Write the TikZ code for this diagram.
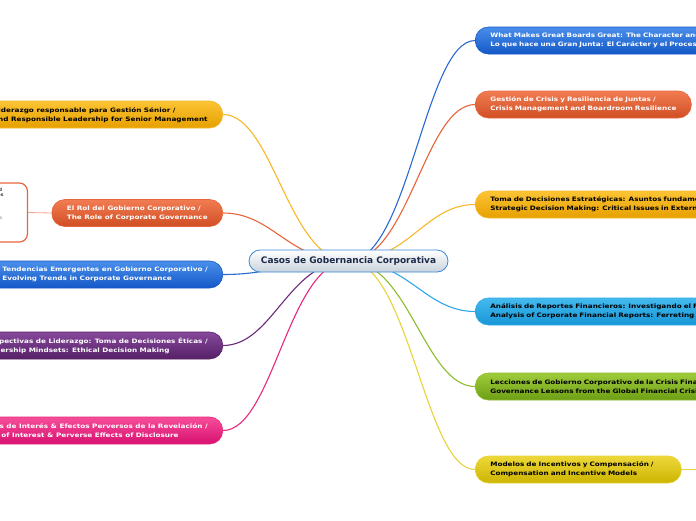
\documentclass[tikz,border=0pt]{standalone}
\usepackage{fontspec}
\setmainfont{DejaVu Sans}
\newfontfamily\branchfont{DejaVu Sans}[FakeStretch=1.2]
\usetikzlibrary{calc}

\definecolor{bluetop}{HTML}{4A8FEA}\definecolor{bluebot}{HTML}{1458C8}\definecolor{blueline}{HTML}{2A6AD0}
\definecolor{orangetop}{HTML}{F27C52}\definecolor{orangebot}{HTML}{D04E24}\definecolor{orangeline}{HTML}{E8643A}
\definecolor{goldtop}{HTML}{FCC434}\definecolor{goldbot}{HTML}{E6A000}\definecolor{goldline}{HTML}{F8B828}
\definecolor{cyantop}{HTML}{44BAEE}\definecolor{cyanbot}{HTML}{1896D6}\definecolor{cyanline}{HTML}{30A8E8}
\definecolor{greentop}{HTML}{9ECC3C}\definecolor{greenbot}{HTML}{6E9E14}\definecolor{greenline}{HTML}{8CBE2C}
\definecolor{yellowtop}{HTML}{EED83A}\definecolor{yellowbot}{HTML}{CCB400}\definecolor{yellowline}{HTML}{E8D43A}
\definecolor{purpletop}{HTML}{86489C}\definecolor{purplebot}{HTML}{562066}\definecolor{purpleline}{HTML}{6A2A7A}
\definecolor{pinktop}{HTML}{F64E9A}\definecolor{pinkbot}{HTML}{D81070}\definecolor{pinkline}{HTML}{E8287E}
\definecolor{roottext}{HTML}{1C2B4A}\definecolor{rootline}{HTML}{3A8AD8}\definecolor{rootbot}{HTML}{C9D3DC}

\tikzset{
  branch/.style={rounded corners=13pt, minimum height=27pt, inner xsep=15pt, inner ysep=3pt,
    align=left, line width=0.6pt, font=\branchfont\bfseries\fontsize{6.05}{9}\selectfont},
  bluebr/.style={branch, top color=bluetop, bottom color=bluebot, draw=bluebot, text=white},
  orangebr/.style={branch, top color=orangetop, bottom color=orangebot, draw=orangeline, text=white},
  goldbr/.style={branch, top color=goldtop, bottom color=goldbot, draw=goldline, text=black},
  cyanbr/.style={branch, top color=cyantop, bottom color=cyanbot, draw=cyanline, text=black},
  greenbr/.style={branch, top color=greentop, bottom color=greenbot, draw=greenline, text=black},
  yellowbr/.style={branch, top color=yellowtop, bottom color=yellowbot, draw=yellowline, text=black},
  purplebr/.style={branch, top color=purpletop, bottom color=purplebot, draw=purplebot, text=white},
  pinkbr/.style={branch, top color=pinktop, bottom color=pinkbot, draw=pinkline, text=white},
  link/.style={line width=1.1pt},
}

\begin{document}
\begin{tikzpicture}[x=1pt,y=-1pt]
    \useasboundingbox (0,0) rectangle (696,520);
    \fill[white] (0,0) rectangle (696,520);
    \clip (0,0) rectangle (696,520);
    \coordinate (hub) at (348.5,261);

    % right side
    \node[bluebr, anchor=west, text width=330pt] (boards) at (475,40.5)
	{What Makes Great Boards Great: The Character and Process /\\Lo que hace una Gran Junta: El Carácter y el Proceso};
    \node[orangebr, anchor=west, text width=186pt] (crisis) at (475,104.5)
	{Gestión de Crisis y Resiliencia de Juntas /\\\mbox{Crisis Management and Boardroom Resilience}};
    \node[goldbr, anchor=west, text width=330pt] (strategy) at (475,204.5)
	{Toma de Decisiones Estratégicas: Asuntos fundamentales /\\Strategic Decision Making: Critical Issues in External Environments};
    \node[cyanbr, anchor=west, text width=330pt] (reports) at (475,311.5)
	{Análisis de Reportes Financieros: Investigando el Fraude /\\Analysis of Corporate Financial Reports: Ferreting out Fraud};
    \node[greenbr, anchor=west, text width=330pt] (lessons) at (475,386.5)
	{Lecciones de Gobierno Corporativo de la Crisis Financiera /\\Governance Lessons from the Global Financial Crisis};
    \node[yellowbr, anchor=west, text width=176pt] (incentives) at (475,469.5)
	{Modelos de Incentivos y Compensación /\\Compensation and Incentive Models};
    \coordinate (incentivesout) at (700,469.5);

    % left side
    \node[goldbr, anchor=east] (ethics) at (223,114.5)
	{Ética y liderazgo responsable para Gestión Sénior /\\Ethics and Responsible Leadership for Senior Management};
    \node[orangebr, anchor=east] (role) at (223,213)
	{El Rol del Gobierno Corporativo /\\The Role of Corporate Governance};
    \node[bluebr, anchor=east] (trends) at (223,274.5)
	{Tendencias Emergentes en Gobierno Corporativo /\\Evolving Trends in Corporate Governance};
    \node[purplebr, anchor=east] (mindsets) at (223,345.5)
	{Perspectivas de Liderazgo: Toma de Decisiones Éticas /\\Leadership Mindsets: Ethical Decision Making};
    \node[pinkbr, anchor=east] (conflicts) at (223,430.5)
	{Conflictos de Interés \& Efectos Perversos de la Revelación /\\Conflicts of Interest \& Perverse Effects of Disclosure};
    \node[draw=orangeline, fill=white, line width=1.2pt, rounded corners=8pt, anchor=east,
	minimum height=59pt, text width=60pt, inner xsep=7pt, align=left, text=black!80,
	font=\fontsize{4.5}{5.5}\selectfont] (rolenote) at (28,212.5)
	{\textbf{Responsabilidad}\\\textbf{de los Conceptos}\\[1.5pt]{\color{gray}Marco legal y ·}\\[10pt]{\color{gray}Responsabilidades}\\[12pt]\mbox{}};

    % connectors
    \draw[link, blueline] (hub) .. controls ++(60,0) and ($(boards.west)+(-50,0)$) .. (boards.west);
    \draw[link, orangeline] (hub) .. controls ++(60,0) and ($(crisis.west)+(-50,0)$) .. (crisis.west);
    \draw[link, goldline] (hub) .. controls ++(60,0) and ($(strategy.west)+(-50,0)$) .. (strategy.west);
    \draw[link, cyanline] (hub) .. controls ++(60,0) and ($(reports.west)+(-50,0)$) .. (reports.west);
    \draw[link, greenline] (hub) .. controls ++(60,0) and ($(lessons.west)+(-50,0)$) .. (lessons.west);
    \draw[link, yellowline] (hub) .. controls ++(60,0) and ($(incentives.west)+(-50,0)$) .. (incentives.west);
    \draw[link, yellowline] (incentives.east) -- (incentivesout);
    \draw[link, goldline] (hub) .. controls ++(-60,0) and ($(ethics.east)+(50,0)$) .. (ethics.east);
    \draw[link, orangeline] (hub) .. controls ++(-60,0) and ($(role.east)+(50,0)$) .. (role.east);
    \draw[link, blueline] (hub) .. controls ++(-60,0) and ($(trends.east)+(50,0)$) .. (trends.east);
    \draw[link, purpleline] (hub) .. controls ++(-60,0) and ($(mindsets.east)+(50,0)$) .. (mindsets.east);
    \draw[link, pinkline] (hub) .. controls ++(-60,0) and ($(conflicts.east)+(50,0)$) .. (conflicts.east);
    \draw[line width=0.8pt, orangeline!60] (role.west) -- (rolenote.east);

    % central topic
    \node[rounded corners=11pt, minimum height=22pt, minimum width=199pt, top color=white,
	bottom color=rootbot, draw=rootline, line width=0.8pt, text=roottext,
	font=\bfseries\fontsize{9}{10}\selectfont] (root) at (hub) {Casos de Gobernancia Corporativa};
\end{tikzpicture}
\end{document}
